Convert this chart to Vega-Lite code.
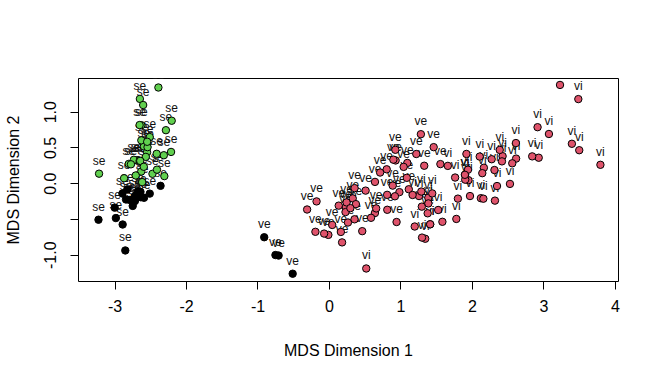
{
  "$schema": "https://vega.github.io/schema/vega-lite/v6.json",
  "autosize": "none",
  "padding": {"left": 78, "top": 78, "right": 42, "bottom": 98},
  "width": 540,
  "height": 203,
  "background": "white",
  "config": {
    "view": {"stroke": "black", "strokeWidth": 1},
    "font": "Liberation Sans"
  },
  "data": {"values": [
    {"x":-2.684,"y":0.319,"lab":"se","cl":"3"},
    {"x":-2.714,"y":-0.177,"lab":"se","cl":"1"},
    {"x":-2.889,"y":-0.145,"lab":"se","cl":"1"},
    {"x":-2.745,"y":-0.318,"lab":"se","cl":"1"},
    {"x":-2.729,"y":0.327,"lab":"se","cl":"3"},
    {"x":-2.281,"y":0.741,"lab":"se","cl":"3"},
    {"x":-2.821,"y":-0.089,"lab":"se","cl":"1"},
    {"x":-2.626,"y":0.163,"lab":"se","cl":"3"},
    {"x":-2.886,"y":-0.578,"lab":"se","cl":"1"},
    {"x":-2.673,"y":-0.114,"lab":"se","cl":"1"},
    {"x":-2.507,"y":0.645,"lab":"se","cl":"3"},
    {"x":-2.613,"y":0.015,"lab":"se","cl":"3"},
    {"x":-2.786,"y":-0.235,"lab":"se","cl":"1"},
    {"x":-3.224,"y":-0.511,"lab":"se","cl":"1"},
    {"x":-2.645,"y":1.179,"lab":"se","cl":"3"},
    {"x":-2.386,"y":1.338,"lab":"se","cl":"3"},
    {"x":-2.624,"y":0.811,"lab":"se","cl":"3"},
    {"x":-2.648,"y":0.312,"lab":"se","cl":"3"},
    {"x":-2.200,"y":0.873,"lab":"se","cl":"3"},
    {"x":-2.588,"y":0.514,"lab":"se","cl":"3"},
    {"x":-2.310,"y":0.391,"lab":"se","cl":"3"},
    {"x":-2.544,"y":0.433,"lab":"se","cl":"3"},
    {"x":-3.216,"y":0.133,"lab":"se","cl":"3"},
    {"x":-2.303,"y":0.099,"lab":"se","cl":"3"},
    {"x":-2.356,"y":-0.037,"lab":"se","cl":"1"},
    {"x":-2.507,"y":-0.146,"lab":"se","cl":"1"},
    {"x":-2.469,"y":0.131,"lab":"se","cl":"3"},
    {"x":-2.562,"y":0.368,"lab":"se","cl":"3"},
    {"x":-2.640,"y":0.312,"lab":"se","cl":"3"},
    {"x":-2.632,"y":-0.197,"lab":"se","cl":"1"},
    {"x":-2.587,"y":-0.204,"lab":"se","cl":"1"},
    {"x":-2.410,"y":0.411,"lab":"se","cl":"3"},
    {"x":-2.649,"y":0.813,"lab":"se","cl":"3"},
    {"x":-2.599,"y":1.093,"lab":"se","cl":"3"},
    {"x":-2.637,"y":-0.121,"lab":"se","cl":"1"},
    {"x":-2.866,"y":0.069,"lab":"se","cl":"3"},
    {"x":-2.625,"y":0.599,"lab":"se","cl":"3"},
    {"x":-2.801,"y":0.269,"lab":"se","cl":"3"},
    {"x":-2.981,"y":-0.488,"lab":"se","cl":"1"},
    {"x":-2.590,"y":0.229,"lab":"se","cl":"3"},
    {"x":-2.770,"y":0.264,"lab":"se","cl":"3"},
    {"x":-2.849,"y":-0.941,"lab":"se","cl":"1"},
    {"x":-2.997,"y":-0.342,"lab":"se","cl":"1"},
    {"x":-2.406,"y":0.189,"lab":"se","cl":"3"},
    {"x":-2.209,"y":0.437,"lab":"se","cl":"3"},
    {"x":-2.714,"y":-0.250,"lab":"se","cl":"1"},
    {"x":-2.538,"y":0.504,"lab":"se","cl":"3"},
    {"x":-2.839,"y":-0.228,"lab":"se","cl":"1"},
    {"x":-2.543,"y":0.579,"lab":"se","cl":"3"},
    {"x":-2.703,"y":0.108,"lab":"se","cl":"3"},
    {"x":1.285,"y":0.685,"lab":"ve","cl":"2"},
    {"x":0.932,"y":0.318,"lab":"ve","cl":"2"},
    {"x":1.464,"y":0.504,"lab":"ve","cl":"2"},
    {"x":0.183,"y":-0.828,"lab":"ve","cl":"2"},
    {"x":1.088,"y":0.075,"lab":"ve","cl":"2"},
    {"x":0.642,"y":-0.418,"lab":"ve","cl":"2"},
    {"x":1.095,"y":0.283,"lab":"ve","cl":"2"},
    {"x":-0.749,"y":-1.005,"lab":"ve","cl":"1"},
    {"x":1.044,"y":0.228,"lab":"ve","cl":"2"},
    {"x":-0.009,"y":-0.723,"lab":"ve","cl":"2"},
    {"x":-0.508,"y":-1.266,"lab":"ve","cl":"1"},
    {"x":0.512,"y":-0.104,"lab":"ve","cl":"2"},
    {"x":0.265,"y":-0.550,"lab":"ve","cl":"2"},
    {"x":0.985,"y":-0.125,"lab":"ve","cl":"2"},
    {"x":-0.174,"y":-0.255,"lab":"ve","cl":"2"},
    {"x":0.928,"y":0.467,"lab":"ve","cl":"2"},
    {"x":0.660,"y":-0.353,"lab":"ve","cl":"2"},
    {"x":0.236,"y":-0.334,"lab":"ve","cl":"2"},
    {"x":0.945,"y":-0.543,"lab":"ve","cl":"2"},
    {"x":0.045,"y":-0.584,"lab":"ve","cl":"2"},
    {"x":1.116,"y":-0.085,"lab":"ve","cl":"2"},
    {"x":0.358,"y":-0.069,"lab":"ve","cl":"2"},
    {"x":1.298,"y":-0.328,"lab":"ve","cl":"2"},
    {"x":0.922,"y":-0.183,"lab":"ve","cl":"2"},
    {"x":0.715,"y":0.149,"lab":"ve","cl":"2"},
    {"x":0.900,"y":0.329,"lab":"ve","cl":"2"},
    {"x":1.332,"y":0.244,"lab":"ve","cl":"2"},
    {"x":1.558,"y":0.267,"lab":"ve","cl":"2"},
    {"x":0.813,"y":-0.163,"lab":"ve","cl":"2"},
    {"x":-0.306,"y":-0.368,"lab":"ve","cl":"2"},
    {"x":-0.068,"y":-0.705,"lab":"ve","cl":"2"},
    {"x":-0.190,"y":-0.680,"lab":"ve","cl":"2"},
    {"x":0.136,"y":-0.314,"lab":"ve","cl":"2"},
    {"x":1.380,"y":-0.421,"lab":"ve","cl":"2"},
    {"x":0.588,"y":-0.484,"lab":"ve","cl":"2"},
    {"x":0.807,"y":0.194,"lab":"ve","cl":"2"},
    {"x":1.221,"y":0.408,"lab":"ve","cl":"2"},
    {"x":0.815,"y":-0.372,"lab":"ve","cl":"2"},
    {"x":0.246,"y":-0.269,"lab":"ve","cl":"2"},
    {"x":0.166,"y":-0.682,"lab":"ve","cl":"2"},
    {"x":0.465,"y":-0.671,"lab":"ve","cl":"2"},
    {"x":0.891,"y":-0.034,"lab":"ve","cl":"2"},
    {"x":0.231,"y":-0.404,"lab":"ve","cl":"2"},
    {"x":-0.705,"y":-1.012,"lab":"ve","cl":"1"},
    {"x":0.357,"y":-0.505,"lab":"ve","cl":"2"},
    {"x":0.332,"y":-0.213,"lab":"ve","cl":"2"},
    {"x":0.376,"y":-0.293,"lab":"ve","cl":"2"},
    {"x":0.643,"y":0.018,"lab":"ve","cl":"2"},
    {"x":-0.906,"y":-0.756,"lab":"ve","cl":"1"},
    {"x":0.299,"y":-0.349,"lab":"ve","cl":"2"},
    {"x":2.531,"y":-0.010,"lab":"vi","cl":"2"},
    {"x":1.415,"y":-0.575,"lab":"vi","cl":"2"},
    {"x":2.617,"y":0.344,"lab":"vi","cl":"2"},
    {"x":1.972,"y":-0.180,"lab":"vi","cl":"2"},
    {"x":2.350,"y":-0.040,"lab":"vi","cl":"2"},
    {"x":3.397,"y":0.551,"lab":"vi","cl":"2"},
    {"x":0.521,"y":-1.193,"lab":"vi","cl":"2"},
    {"x":2.933,"y":0.356,"lab":"vi","cl":"2"},
    {"x":2.321,"y":-0.244,"lab":"vi","cl":"2"},
    {"x":2.917,"y":0.783,"lab":"vi","cl":"2"},
    {"x":1.662,"y":0.242,"lab":"vi","cl":"2"},
    {"x":1.803,"y":-0.216,"lab":"vi","cl":"2"},
    {"x":2.166,"y":0.216,"lab":"vi","cl":"2"},
    {"x":1.346,"y":-0.777,"lab":"vi","cl":"2"},
    {"x":1.586,"y":-0.540,"lab":"vi","cl":"2"},
    {"x":1.904,"y":0.119,"lab":"vi","cl":"2"},
    {"x":1.950,"y":0.042,"lab":"vi","cl":"2"},
    {"x":3.487,"y":1.176,"lab":"vi","cl":"2"},
    {"x":3.796,"y":0.257,"lab":"vi","cl":"2"},
    {"x":1.301,"y":-0.761,"lab":"vi","cl":"2"},
    {"x":2.428,"y":0.378,"lab":"vi","cl":"2"},
    {"x":1.199,"y":-0.606,"lab":"vi","cl":"2"},
    {"x":3.500,"y":0.461,"lab":"vi","cl":"2"},
    {"x":1.389,"y":-0.204,"lab":"vi","cl":"2"},
    {"x":2.275,"y":0.335,"lab":"vi","cl":"2"},
    {"x":2.614,"y":0.561,"lab":"vi","cl":"2"},
    {"x":1.259,"y":-0.180,"lab":"vi","cl":"2"},
    {"x":1.291,"y":-0.117,"lab":"vi","cl":"2"},
    {"x":2.124,"y":-0.210,"lab":"vi","cl":"2"},
    {"x":2.388,"y":0.465,"lab":"vi","cl":"2"},
    {"x":2.842,"y":0.375,"lab":"vi","cl":"2"},
    {"x":3.231,"y":1.374,"lab":"vi","cl":"2"},
    {"x":2.159,"y":-0.217,"lab":"vi","cl":"2"},
    {"x":1.444,"y":-0.143,"lab":"vi","cl":"2"},
    {"x":1.781,"y":-0.500,"lab":"vi","cl":"2"},
    {"x":3.076,"y":0.688,"lab":"vi","cl":"2"},
    {"x":2.144,"y":0.140,"lab":"vi","cl":"2"},
    {"x":1.905,"y":0.049,"lab":"vi","cl":"2"},
    {"x":1.169,"y":-0.165,"lab":"vi","cl":"2"},
    {"x":2.108,"y":0.372,"lab":"vi","cl":"2"},
    {"x":2.314,"y":0.184,"lab":"vi","cl":"2"},
    {"x":1.922,"y":0.409,"lab":"vi","cl":"2"},
    {"x":1.415,"y":-0.575,"lab":"vi","cl":"2"},
    {"x":2.563,"y":0.278,"lab":"vi","cl":"2"},
    {"x":2.419,"y":0.305,"lab":"vi","cl":"2"},
    {"x":1.944,"y":0.188,"lab":"vi","cl":"2"},
    {"x":1.527,"y":-0.375,"lab":"vi","cl":"2"},
    {"x":1.764,"y":0.079,"lab":"vi","cl":"2"},
    {"x":1.901,"y":0.117,"lab":"vi","cl":"2"},
    {"x":1.390,"y":-0.283,"lab":"vi","cl":"2"}
  ]},
  "encoding": {
    "x": {
      "field": "x", "type": "quantitative",
      "scale": {"domain": [-3.5105, 4.042], "nice": false, "zero": false},
      "axis": {
        "values": [-3, -2, -1, 0, 1, 2, 3, 4],
        "labelExpr": "datum.value < 0 ? '-' + format(-datum.value, 'd') : format(datum.value, 'd')",
        "domain": false, "grid": false,
        "tickSize": 8, "tickColor": "black", "tickWidth": 1,
        "labelFont": "Liberation Sans", "labelFontSize": 16, "labelColor": "black",
        "labelBaseline": "alphabetic", "labelPadding": 22, "labelFlush": false, "labelOverlap": false,
        "title": "MDS Dimension 1",
        "titleFont": "Liberation Sans", "titleFontSize": 16, "titleFontWeight": "normal", "titleColor": "black",
        "titleBaseline": "alphabetic", "titleAlign": "center", "titleX": 270, "titleY": 74
      }
    },
    "y": {
      "field": "y", "type": "quantitative",
      "scale": {"domain": [-1.368, 1.471], "nice": false, "zero": false},
      "axis": {
        "values": [-1, -0.5, 0, 0.5, 1],
        "labelExpr": "datum.value == -0.5 ? '' : (datum.value < 0 ? '-' + format(-datum.value, '.1f') : format(datum.value, '.1f'))",
        "domain": false, "grid": false,
        "tickSize": 8, "tickColor": "black", "tickWidth": 1,
        "labelFont": "Liberation Sans", "labelFontSize": 16, "labelColor": "black",
        "labelAngle": -90, "labelAlign": "center", "labelBaseline": "alphabetic",
        "labelPadding": 15, "labelFlush": false, "labelOverlap": false,
        "title": "MDS Dimension 2",
        "titleFont": "Liberation Sans", "titleFontSize": 16, "titleFontWeight": "normal", "titleColor": "black",
        "titleAngle": -90, "titleBaseline": "alphabetic", "titleAlign": "center", "titleX": -60, "titleY": 101.5
      }
    }
  },
  "layer": [
    {
      "mark": {"type": "text", "clip": true, "dy": -9, "fontSize": 12, "font": "Liberation Sans", "baseline": "alphabetic", "align": "center", "color": "#111111"},
      "encoding": {"text": {"field": "lab", "type": "nominal"}}
    },
    {
      "mark": {"type": "point", "filled": true, "size": 55, "stroke": "black", "strokeWidth": 1, "opacity": 1, "shape": "circle"},
      "encoding": {
        "color": {"field": "cl", "type": "nominal", "scale": {"domain": ["1", "2", "3"], "range": ["#000000", "#DF536B", "#61D04F"]}, "legend": null}
      }
    }
  ]
}
